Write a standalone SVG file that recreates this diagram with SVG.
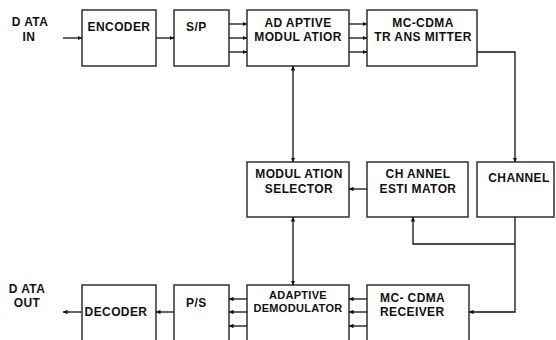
<svg xmlns="http://www.w3.org/2000/svg" width="556" height="340" viewBox="0 0 556 340">
  <style>
    .box { fill: #fff; stroke: #222; stroke-width: 1.4; }
    .wire { fill: none; stroke: #111; stroke-width: 1.3; }
    .lbl { font-family: "Liberation Sans", Arial, sans-serif; font-weight: bold; font-size: 12px; letter-spacing: 0.4px; fill: #111; text-anchor: middle; }
    .sm { font-size: 11px; letter-spacing: 0.3px; }
    .st { text-anchor: start; }
  </style>
  <defs>
    <marker id="ah" viewBox="0 0 6 6" refX="6" refY="3" markerWidth="4.5" markerHeight="4.5" orient="auto-start-reverse" markerUnits="userSpaceOnUse">
      <path d="M0,0 L6,3 L0,6 Z" fill="#111"/>
    </marker>
  </defs>
  <rect width="556" height="340" fill="#fff"/>

  <!-- free-standing labels -->
  <g id="data-in">
    <text class="lbl" x="30" y="26">D ATA</text>
    <text class="lbl" x="29" y="41">IN</text>
  </g>
  <g id="data-out">
    <text class="lbl" x="27" y="293">D ATA</text>
    <text class="lbl" x="27" y="307">OUT</text>
  </g>

  <!-- transmit chain -->
  <g id="encoder">
    <rect class="box" x="82" y="10" width="74" height="56"/>
    <text class="lbl" x="119" y="31">ENCODER</text>
  </g>
  <g id="sp">
    <rect class="box" x="174" y="10" width="55" height="56"/>
    <text class="lbl st" x="186" y="31">S/P</text>
  </g>
  <g id="adaptive-modulator">
    <rect class="box" x="247" y="10" width="102" height="56"/>
    <text class="lbl" x="298" y="27">AD APTIVE</text>
    <text class="lbl" x="298" y="41">MODUL ATIOR</text>
  </g>
  <g id="transmitter">
    <rect class="box" x="367" y="10" width="110" height="56"/>
    <text class="lbl" x="423" y="27">MC-CDMA</text>
    <text class="lbl" x="423" y="41">TR ANS MITTER</text>
  </g>

  <!-- middle row -->
  <g id="modulation-selector">
    <rect class="box" x="247" y="162" width="102" height="55"/>
    <text class="lbl" x="299" y="178">MODUL ATION</text>
    <text class="lbl" x="299" y="193">SELECTOR</text>
  </g>
  <g id="channel-estimator">
    <rect class="box" x="367" y="162" width="101" height="55"/>
    <text class="lbl" x="418" y="178">CH ANNEL</text>
    <text class="lbl" x="418" y="193">ESTI MATOR</text>
  </g>
  <g id="channel">
    <rect class="box" x="477" y="162" width="77" height="55"/>
    <text class="lbl" x="519" y="182">CHANNEL</text>
  </g>

  <!-- receive chain -->
  <g id="decoder">
    <rect class="box" x="82" y="285" width="74" height="62"/>
    <text class="lbl" x="116" y="316">DECODER</text>
  </g>
  <g id="ps">
    <rect class="box" x="174" y="285" width="55" height="62"/>
    <text class="lbl st" x="186" y="307">P/S</text>
  </g>
  <g id="adaptive-demodulator">
    <rect class="box" x="247" y="285" width="102" height="62"/>
    <text class="lbl sm" x="298" y="299">ADAPTIVE</text>
    <text class="lbl sm" x="298" y="312">DEMODULATOR</text>
  </g>
  <g id="receiver">
    <rect class="box" x="367" y="285" width="102" height="62"/>
    <text class="lbl st" x="380" y="302">MC- CDMA</text>
    <text class="lbl st" x="380" y="316">RECEIVER</text>
  </g>

  <g id="connectors">
    <line class="wire" x1="63" y1="38" x2="82" y2="38" marker-end="url(#ah)"/>
    <line class="wire" x1="156" y1="38" x2="174" y2="38" marker-end="url(#ah)"/>
    <line class="wire" x1="229" y1="24" x2="247" y2="24" marker-end="url(#ah)"/>
    <line class="wire" x1="229" y1="38" x2="247" y2="38" marker-end="url(#ah)"/>
    <line class="wire" x1="229" y1="52" x2="247" y2="52" marker-end="url(#ah)"/>
    <line class="wire" x1="349" y1="24" x2="367" y2="24" marker-end="url(#ah)"/>
    <line class="wire" x1="349" y1="38" x2="367" y2="38" marker-end="url(#ah)"/>
    <line class="wire" x1="349" y1="52" x2="367" y2="52" marker-end="url(#ah)"/>
    <polyline class="wire" points="477,52 515,52 515,162" marker-end="url(#ah)"/>
    <line class="wire" x1="293" y1="66" x2="293" y2="162" marker-start="url(#ah)" marker-end="url(#ah)"/>
    <line class="wire" x1="367" y1="189" x2="349" y2="189" marker-end="url(#ah)"/>
    <polyline class="wire" points="515,217 515,312 469,312" marker-end="url(#ah)"/>
    <polyline class="wire" points="515,244 413,244 413,217" marker-end="url(#ah)"/>
    <line class="wire" x1="293" y1="217" x2="293" y2="285" marker-start="url(#ah)" marker-end="url(#ah)"/>
    <line class="wire" x1="367" y1="299" x2="349" y2="299" marker-end="url(#ah)"/>
    <line class="wire" x1="367" y1="312" x2="349" y2="312" marker-end="url(#ah)"/>
    <line class="wire" x1="367" y1="326" x2="349" y2="326" marker-end="url(#ah)"/>
    <line class="wire" x1="247" y1="299" x2="229" y2="299" marker-end="url(#ah)"/>
    <line class="wire" x1="247" y1="312" x2="229" y2="312" marker-end="url(#ah)"/>
    <line class="wire" x1="247" y1="326" x2="229" y2="326" marker-end="url(#ah)"/>
    <line class="wire" x1="174" y1="312" x2="156" y2="312" marker-end="url(#ah)"/>
    <line class="wire" x1="82" y1="312" x2="63" y2="312" marker-end="url(#ah)"/>
  </g>
</svg>
